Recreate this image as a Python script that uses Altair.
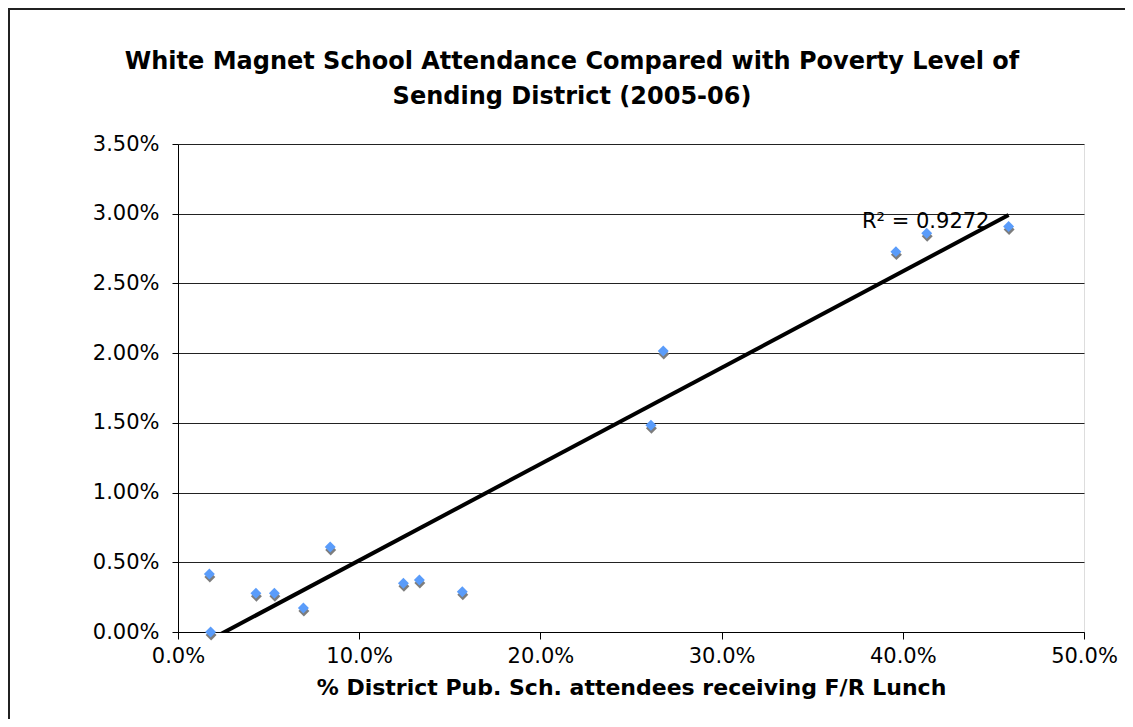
import altair as alt
import pandas as pd

# Data (fractions)
frl_share = [0.0173, 0.0180, 0.0430, 0.0532, 0.0692, 0.0840, 0.1244, 0.1332,
             0.1569, 0.2610, 0.2678, 0.3962, 0.4132, 0.4584]
white_magnet = [0.00416, 0.0000, 0.00278, 0.00278, 0.00172, 0.0061, 0.00349, 0.00373,
                0.00289, 0.01483, 0.02016, 0.02728, 0.0286, 0.02908]

title_lines = ["White Magnet School Attendance Compared with Poverty Level of",
               "Sending District (2005-06)"]
x_title = "% District Pub. Sch. attendees receiving F/R Lunch"
r2_label = "R\u00b2 = 0.9272"
r2_pos_x = [0.3775]
r2_pos_y = [0.0290]
x_ticks = [0.0, 0.1, 0.2, 0.3, 0.4, 0.5]
y_ticks = [0.0, 0.005, 0.01, 0.015, 0.02, 0.025, 0.03, 0.035]

df = pd.DataFrame({"x": frl_share, "y": white_magnet})
lab = pd.DataFrame({"x": r2_pos_x, "y": r2_pos_y, "t": [r2_label]})
t1 = pd.DataFrame({"t": [title_lines[0]]})
t2 = pd.DataFrame({"t": [title_lines[1]]})

FONT = "DejaVu Sans"
xs = alt.Scale(domain=[0, 0.5], nice=False, zero=False)
ys = alt.Scale(domain=[0, 0.035], nice=False, zero=False)

xenc = alt.X("x:Q", scale=xs, axis=alt.Axis(
    values=x_ticks, format=".1%", title=x_title, grid=False,
    tickSize=7, tickColor="black", domainColor="black", labelPadding=6,
    labelFont=FONT, labelFontSize=21, labelColor="black",
    titleFont=FONT, titleFontSize=22, titleFontWeight="bold", titleColor="black",
    titlePadding=11, labelFlush=False))
yenc = alt.Y("y:Q", scale=ys, axis=alt.Axis(
    values=y_ticks, format=".2%", title=None, grid=True, gridColor="#222222",
    gridWidth=1, tickSize=6, tickColor="black", domainColor="black",
    labelPadding=13, labelFont=FONT, labelFontSize=21, labelColor="black"))

base = alt.Chart(df)

shadow = base.mark_point(shape="diamond", filled=True, size=120, color="#7d7d7d",
                         opacity=1, yOffset=3, xOffset=0.5).encode(x=xenc, y=yenc)
points = base.mark_point(shape="diamond", filled=True, size=120, color="#5A9CFA",
                         opacity=1).encode(x=xenc, y=yenc)
trend = base.transform_regression("x", "y").mark_line(
    color="black", strokeWidth=4, clip=True).encode(x=xenc, y=yenc)
r2 = alt.Chart(lab).mark_text(align="left", baseline="alphabetic", font=FONT,
                              fontSize=21, color="black").encode(
    x=alt.X("x:Q", scale=xs), y=alt.Y("y:Q", scale=ys), text="t:N")

title1 = alt.Chart(t1).mark_text(align="center", baseline="middle", font=FONT,
                                 fontSize=24, fontWeight="bold", color="black",
                                 clip=False).encode(
    x=alt.value(394), y=alt.value(-82), text="t:N")
title2 = alt.Chart(t2).mark_text(align="center", baseline="middle", font=FONT,
                                 fontSize=24, fontWeight="bold", color="black",
                                 clip=False).encode(
    x=alt.value(394), y=alt.value(-47), text="t:N")

border_left = alt.Chart(df).mark_rule(color="#222", strokeWidth=1.5, clip=False).encode(
    x=alt.value(-169), y=alt.value(-136), y2=alt.value(580))
border_top = alt.Chart(df).mark_rule(color="#222", strokeWidth=1.5, clip=False).encode(
    x=alt.value(-170), x2=alt.value(950), y=alt.value(-135))

chart = alt.layer(border_left, border_top, trend, shadow, points, r2, title1, title2).properties(
    width=906, height=488,
    autosize=alt.AutoSizeParams(type="none"),
    padding={"left": 170, "top": 136, "right": 41, "bottom": 87},
).configure_view(fill="#C8C8C8", stroke="#808080", strokeWidth=2
).configure(background="white")

chart.save("out.html", embed_options={"renderer": "svg", "actions": False})
